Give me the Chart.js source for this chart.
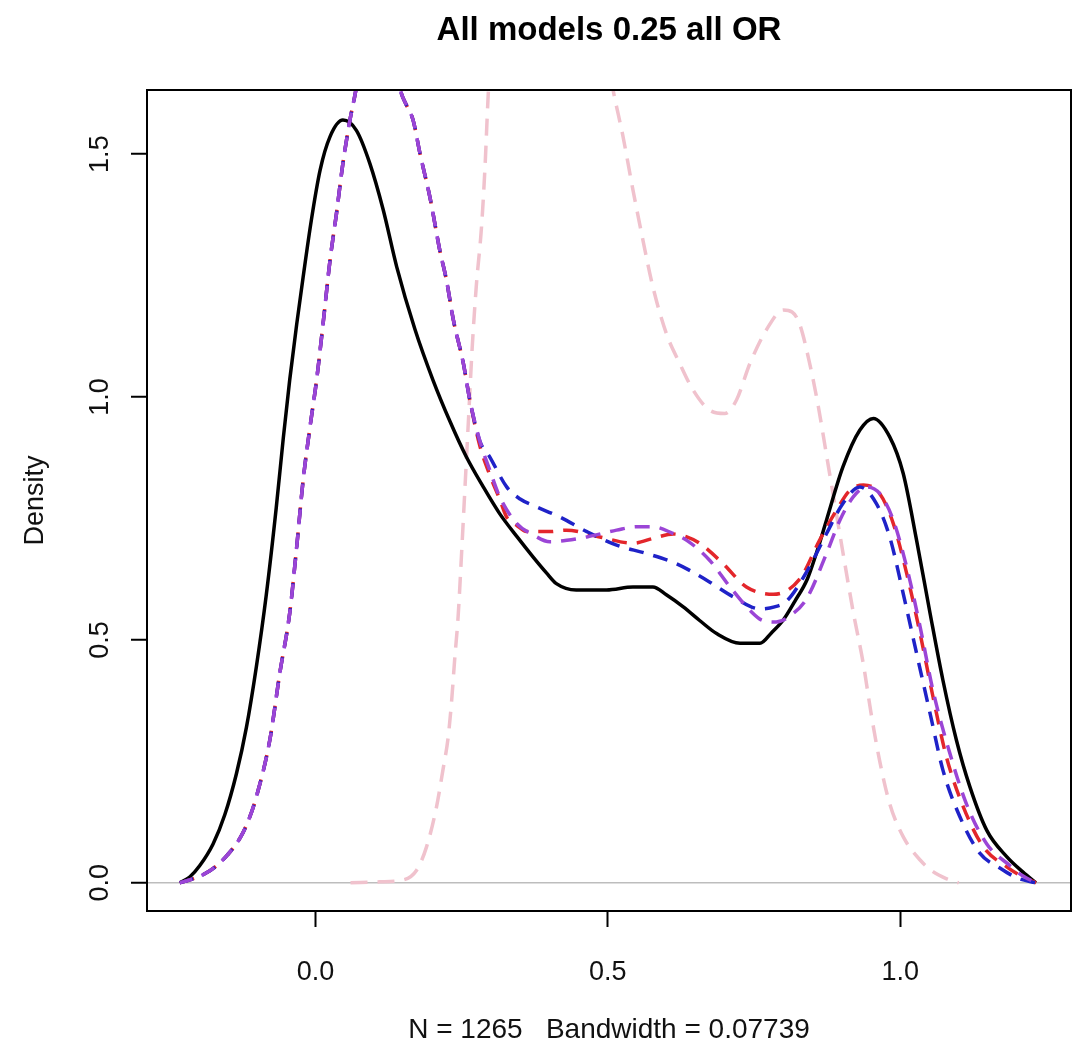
<!DOCTYPE html>
<html>
<head>
<meta charset="utf-8">
<title>All models 0.25 all OR</title>
<script src="https://cdn.jsdelivr.net/npm/chart.js@4.4.1/dist/chart.umd.min.js"></script>
<style>
  html, body { margin: 0; padding: 0; background: #fff; }
  #wrap { width: 1074px; height: 1050px; }
</style>
</head>
<body>
<div id="wrap"><canvas id="grafico" width="1074" height="1050"></canvas></div>
<script>
// Textos do gráfico
const titulo = 'All models 0.25 all OR';
const tituloX = 'N = 1265   Bandwidth = 0.07739';
const tituloY = 'Density';

// Marcas dos eixos
const xTicks = [0, 0.5, 1];
const yTicks = [0, 0.5, 1, 1.5];

// Curva preta (linha contínua)
const xPreto = [-0.232, -0.215, -0.198, -0.175, -0.155, -0.135, -0.118, -0.101, -0.084, -0.067, -0.055, -0.044, -0.032, -0.021, -0.007, 0.008, 0.025, 0.047, 0.07, 0.093, 0.116, 0.139, 0.17, 0.201, 0.23, 0.258, 0.287, 0.315, 0.345, 0.372, 0.395, 0.412, 0.446, 0.498, 0.543, 0.577, 0.6, 0.629, 0.657, 0.686, 0.726, 0.76, 0.78, 0.8, 0.82, 0.841, 0.857, 0.874, 0.902, 0.931, 0.954, 0.982, 1.005, 1.028, 1.051, 1.073, 1.096, 1.119, 1.148, 1.182, 1.21, 1.232];
const yPreto = [0, 0.012, 0.035, 0.08, 0.14, 0.225, 0.32, 0.445, 0.593, 0.772, 0.915, 1.035, 1.15, 1.247, 1.364, 1.467, 1.536, 1.57, 1.549, 1.481, 1.385, 1.268, 1.14, 1.035, 0.95, 0.877, 0.815, 0.76, 0.712, 0.671, 0.638, 0.616, 0.603, 0.603, 0.609, 0.609, 0.593, 0.568, 0.54, 0.513, 0.493, 0.493, 0.515, 0.541, 0.58, 0.625, 0.68, 0.747, 0.856, 0.932, 0.956, 0.918, 0.843, 0.705, 0.555, 0.417, 0.294, 0.198, 0.108, 0.054, 0.022, 0];

// Curva vermelha (tracejada)
const xVermelho = [-0.232, -0.215, -0.19, -0.169, -0.15, -0.129, -0.115, -0.101, -0.078, -0.061, -0.044, -0.032, -0.021, -0.01, 0.002, 0.013, 0.025, 0.036, 0.047, 0.059, 0.067, 0.08, 0.105, 0.13, 0.147, 0.156, 0.167, 0.179, 0.196, 0.213, 0.224, 0.236, 0.253, 0.264, 0.281, 0.298, 0.315, 0.327, 0.345, 0.361, 0.4, 0.429, 0.486, 0.543, 0.58, 0.612, 0.635, 0.657, 0.697, 0.737, 0.783, 0.828, 0.862, 0.891, 0.914, 0.937, 0.965, 0.988, 1.011, 1.034, 1.056, 1.079, 1.108, 1.142, 1.182, 1.21, 1.232];
const yVermelho = [0, 0.006, 0.018, 0.035, 0.058, 0.092, 0.127, 0.177, 0.294, 0.431, 0.555, 0.692, 0.829, 0.932, 1.035, 1.15, 1.282, 1.378, 1.481, 1.57, 1.618, 1.7, 1.76, 1.71, 1.625, 1.6, 1.57, 1.5, 1.41, 1.3, 1.241, 1.158, 1.069, 0.994, 0.9, 0.84, 0.79, 0.753, 0.735, 0.723, 0.723, 0.726, 0.712, 0.699, 0.71, 0.718, 0.712, 0.699, 0.657, 0.609, 0.594, 0.625, 0.705, 0.767, 0.808, 0.819, 0.801, 0.74, 0.637, 0.513, 0.383, 0.259, 0.156, 0.074, 0.033, 0.012, 0];

// Curva azul (tracejada)
const xAzul = [-0.232, -0.215, -0.19, -0.169, -0.15, -0.129, -0.115, -0.101, -0.078, -0.061, -0.044, -0.032, -0.021, -0.01, 0.002, 0.013, 0.025, 0.036, 0.047, 0.059, 0.067, 0.08, 0.105, 0.13, 0.147, 0.156, 0.167, 0.179, 0.196, 0.213, 0.224, 0.236, 0.253, 0.264, 0.281, 0.298, 0.327, 0.35, 0.372, 0.418, 0.464, 0.515, 0.566, 0.617, 0.669, 0.714, 0.76, 0.785, 0.806, 0.84, 0.874, 0.902, 0.931, 0.959, 0.982, 1.005, 1.028, 1.051, 1.073, 1.102, 1.136, 1.171, 1.2, 1.232];
const yAzul = [0, 0.006, 0.018, 0.035, 0.058, 0.092, 0.127, 0.177, 0.294, 0.431, 0.555, 0.692, 0.829, 0.932, 1.035, 1.15, 1.282, 1.378, 1.481, 1.57, 1.618, 1.7, 1.76, 1.71, 1.625, 1.6, 1.57, 1.5, 1.41, 1.3, 1.241, 1.158, 1.069, 0.994, 0.91, 0.877, 0.815, 0.79, 0.777, 0.753, 0.723, 0.695, 0.678, 0.657, 0.623, 0.589, 0.564, 0.568, 0.58, 0.64, 0.719, 0.781, 0.815, 0.781, 0.712, 0.596, 0.472, 0.349, 0.232, 0.136, 0.061, 0.03, 0.01, 0];

// Curva roxa (tracejada)
const xRoxo = [-0.232, -0.215, -0.19, -0.169, -0.15, -0.129, -0.115, -0.101, -0.078, -0.061, -0.044, -0.032, -0.021, -0.01, 0.002, 0.013, 0.025, 0.036, 0.047, 0.059, 0.067, 0.08, 0.105, 0.13, 0.147, 0.156, 0.167, 0.179, 0.196, 0.213, 0.224, 0.236, 0.253, 0.264, 0.281, 0.298, 0.315, 0.344, 0.37, 0.401, 0.43, 0.464, 0.515, 0.55, 0.577, 0.61, 0.635, 0.674, 0.709, 0.743, 0.765, 0.788, 0.812, 0.84, 0.874, 0.897, 0.92, 0.942, 0.965, 0.988, 1.011, 1.034, 1.056, 1.085, 1.113, 1.148, 1.187, 1.21, 1.232];
const yRoxo = [0, 0.006, 0.018, 0.035, 0.058, 0.092, 0.127, 0.177, 0.294, 0.431, 0.555, 0.692, 0.829, 0.932, 1.035, 1.15, 1.282, 1.378, 1.481, 1.57, 1.618, 1.7, 1.76, 1.71, 1.625, 1.6, 1.57, 1.5, 1.41, 1.3, 1.241, 1.158, 1.069, 0.994, 0.91, 0.85, 0.795, 0.74, 0.718, 0.702, 0.705, 0.712, 0.726, 0.733, 0.733, 0.72, 0.705, 0.664, 0.609, 0.561, 0.54, 0.537, 0.55, 0.585, 0.678, 0.747, 0.795, 0.815, 0.801, 0.747, 0.65, 0.527, 0.396, 0.266, 0.163, 0.08, 0.036, 0.014, 0];

// Curva rosa (tracejada, sai do topo do gráfico)
const xRosa = [0.06, 0.11, 0.15, 0.173, 0.19, 0.207, 0.218, 0.227, 0.233, 0.238, 0.244, 0.25, 0.256, 0.262, 0.268, 0.275, 0.284, 0.29, 0.295, 0.3, 0.33, 0.37, 0.42, 0.47, 0.509, 0.526, 0.543, 0.56, 0.577, 0.6, 0.623, 0.646, 0.674, 0.7, 0.72, 0.743, 0.771, 0.8, 0.815, 0.828, 0.845, 0.86, 0.874, 0.888, 0.902, 0.92, 0.937, 0.95, 0.965, 0.982, 1.005, 1.034, 1.056, 1.08, 1.1];
const yRosa = [0, 0.002, 0.006, 0.026, 0.074, 0.156, 0.232, 0.3, 0.376, 0.458, 0.548, 0.68, 0.82, 0.96, 1.1, 1.227, 1.35, 1.474, 1.611, 1.72, 2.0, 2.15, 2.1, 1.9, 1.632, 1.536, 1.426, 1.323, 1.227, 1.131, 1.069, 1.014, 0.973, 0.966, 0.994, 1.069, 1.138, 1.179, 1.175, 1.15, 1.07, 0.98, 0.88, 0.78, 0.68, 0.555, 0.45, 0.35, 0.25, 0.163, 0.095, 0.047, 0.023, 0.008, 0];

const fonte = '"Liberation Sans", Arial, sans-serif';
Chart.defaults.font.family = fonte;
Chart.defaults.color = '#111';

// Junta os arrays x e y em pontos
function pontos(xs, ys) {
  return xs.map((x, i) => ({ x: x, y: ys[i] }));
}

function serie(xs, ys, cor, largura, tracejado, deslocamento, ordem) {
  return {
    data: pontos(xs, ys),
    borderColor: cor,
    borderWidth: largura,
    borderDash: tracejado,
    borderDashOffset: deslocamento,
    pointRadius: 0,
    cubicInterpolationMode: 'monotone',
    fill: false,
    clip: 0,
    order: ordem
  };
}

// Moldura e título (centralizado sobre a área do gráfico, como no R)
const molduraPlugin = {
  id: 'moldura',
  afterDraw(chart) {
    const { ctx, chartArea } = chart;
    ctx.save();
    ctx.strokeStyle = '#000';
    ctx.lineWidth = 2;
    ctx.strokeRect(chartArea.left, chartArea.top, chartArea.right - chartArea.left, chartArea.bottom - chartArea.top);
    ctx.fillStyle = '#000';
    ctx.font = 'bold 33px ' + fonte;
    ctx.textAlign = 'center';
    ctx.textBaseline = 'alphabetic';
    ctx.fillText(titulo, (chartArea.left + chartArea.right) / 2, 40);
    ctx.restore();
  }
};

const grafico = new Chart(document.getElementById('grafico'), {
  type: 'line',
  data: {
    datasets: [
      serie(xRosa, yRosa, '#f0c2cd', 3.5, [17, 10], 0, 5),
      serie(xPreto, yPreto, '#000000', 3.5, [], 0, 4),
      serie(xVermelho, yVermelho, '#e3262b', 3.5, [15, 10], 0, 3),
      serie(xAzul, yAzul, '#1f22c8', 3.5, [15, 10], 1, 2),
      serie(xRoxo, yRoxo, '#9b45d6', 3.5, [15, 10], 2, 1)
    ]
  },
  options: {
    responsive: false,
    animation: false,
    layout: { padding: { top: 90, right: 3, left: 0, bottom: 0 } },
    plugins: {
      legend: { display: false },
      tooltip: { enabled: false }
    },
    scales: {
      x: {
        type: 'linear',
        min: -0.288,
        max: 1.292,
        afterBuildTicks: (escala) => { escala.ticks = xTicks.map(v => ({ value: v })); },
        afterFit: (escala) => { escala.height = 139; },
        grid: { color: 'rgba(0,0,0,0)', tickLength: 16, tickColor: '#000', tickWidth: 2 },
        border: { display: false },
        ticks: {
          autoSkip: false,
          maxRotation: 0,
          padding: 29,
          font: { size: 27 },
          callback: (v) => v.toFixed(1)
        },
        title: {
          display: true,
          text: tituloX,
          font: { size: 28 },
          padding: { top: 0, bottom: 3 }
        }
      },
      y: {
        type: 'linear',
        min: -0.058,
        max: 1.632,
        afterBuildTicks: (escala) => { escala.ticks = yTicks.map(v => ({ value: v })); },
        afterFit: (escala) => { escala.width = 147; },
        grid: {
          color: (ctx) => (ctx.tick && ctx.tick.value === 0 ? '#bdbdbd' : 'rgba(0,0,0,0)'),
          lineWidth: 1.5,
          tickLength: 16,
          tickColor: '#000',
          tickWidth: 2
        },
        border: { display: false },
        ticks: {
          autoSkip: false,
          minRotation: 90,
          maxRotation: 90,
          crossAlign: 'center',
          padding: 12,
          font: { size: 27 },
          callback: (v) => v.toFixed(1)
        },
        title: {
          display: true,
          text: tituloY,
          font: { size: 27 },
          padding: { top: 19 }
        }
      }
    }
  },
  plugins: [molduraPlugin]
});
</script>
</body>
</html>
